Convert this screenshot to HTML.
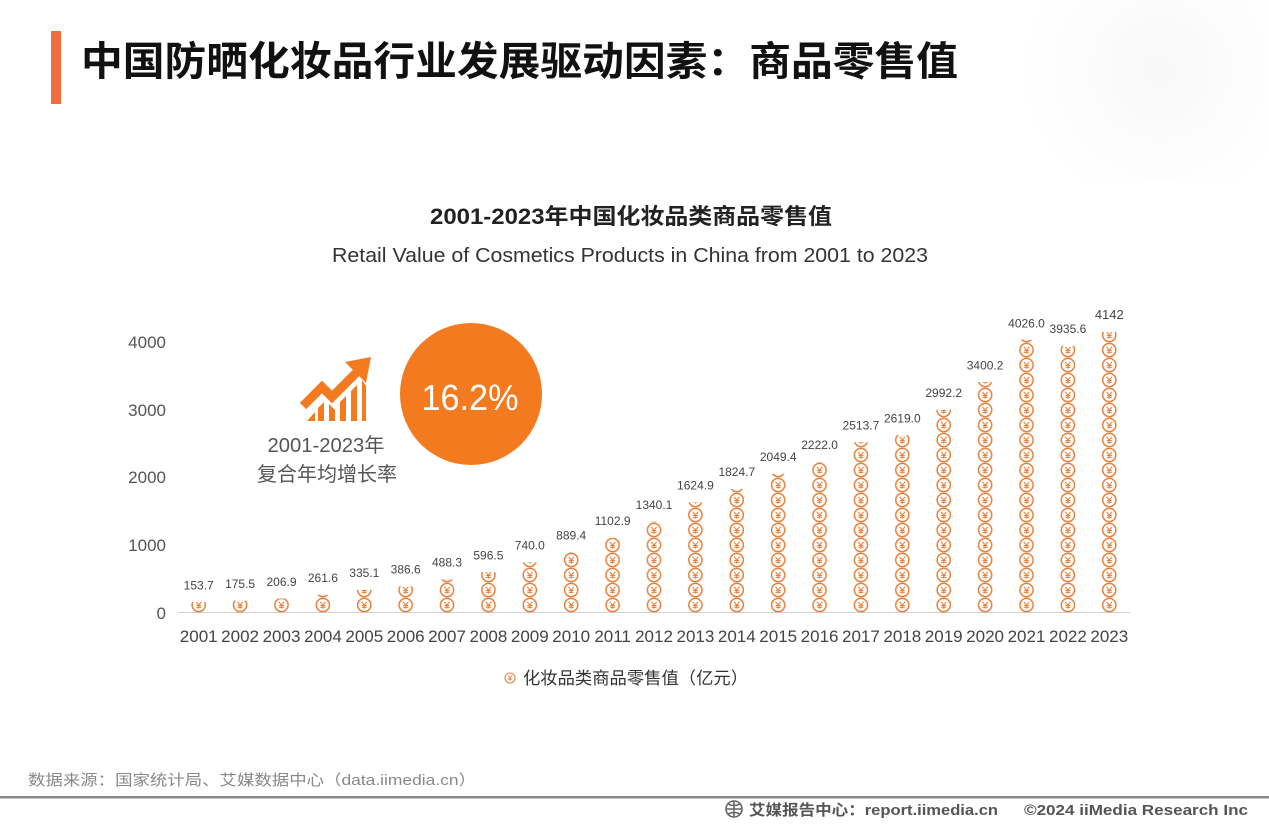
<!DOCTYPE html>
<html><head><meta charset="utf-8">
<style>
html,body{margin:0;padding:0;background:#fff;}
body{width:1269px;height:825px;overflow:hidden;position:relative;}
svg{position:absolute;left:0;top:0;}
</style></head>
<body>
<svg width="1269" height="825" viewBox="0 0 1269 825" xmlns="http://www.w3.org/2000/svg">
<defs>
  <radialGradient id="glow" cx="1160" cy="70" r="140" gradientUnits="userSpaceOnUse">
    <stop offset="0" stop-color="#f8f8f8"/>
    <stop offset="1" stop-color="#ffffff"/>
  </radialGradient>
  <pattern id="coins" patternUnits="userSpaceOnUse" x="178" y="12.5" width="41.39" height="15">
    <circle cx="20.7" cy="7.5" r="6.6" fill="#fff" stroke="#E9803A" stroke-width="1.5"/>
    <path d="M18 4.3 L20.7 7.6 L23.4 4.3 M20.7 7.6 L20.7 11.2 M18.2 8 L23.2 8 M18.2 9.8 L23.2 9.8" fill="none" stroke="#E9803A" stroke-width="1.1"/>
  </pattern>
</defs>
<rect x="1000" y="0" width="269" height="180" fill="url(#glow)"/>

<!-- header -->
<rect x="51" y="31" width="10" height="73" fill="#F26B3A"/>
<text x="81" y="75" font-family="'Liberation Sans','Noto Sans CJK SC',sans-serif" font-size="40" font-weight="bold" fill="#111" textLength="877" lengthAdjust="spacingAndGlyphs">中国防晒化妆品行业发展驱动因素：商品零售值</text>

<!-- chart titles -->
<text x="631" y="224" text-anchor="middle" font-family="'Liberation Sans','Noto Sans CJK SC',sans-serif" font-size="22" font-weight="bold" fill="#222" textLength="402" lengthAdjust="spacingAndGlyphs">2001-2023年中国化妆品类商品零售值</text>
<text x="630" y="262" text-anchor="middle" font-family="'Liberation Sans',sans-serif" font-size="20" fill="#333" textLength="596" lengthAdjust="spacingAndGlyphs">Retail Value of Cosmetics Products in China from 2001 to 2023</text>

<!-- y axis labels -->
<g font-family="'Liberation Sans',sans-serif" font-size="17" fill="#555" text-anchor="end">
  <text x="166" y="348">4000</text>
  <text x="166" y="416">3000</text>
  <text x="166" y="483">2000</text>
  <text x="166" y="551">1000</text>
  <text x="166" y="619">0</text>
</g>

<!-- axis line -->
<line x1="178" y1="612.5" x2="1130" y2="612.5" stroke="#d0d0d0" stroke-width="1"/>

<!-- coin columns -->
<g fill="url(#coins)">
  <rect x="178" y="602.1" width="41.39" height="10.4"/>
  <rect x="219.39" y="600.6" width="41.39" height="11.9"/>
  <rect x="260.78" y="598.5" width="41.39" height="14"/>
  <rect x="302.17" y="594.8" width="41.39" height="17.7"/>
  <rect x="343.56" y="589.8" width="41.39" height="22.7"/>
  <rect x="384.95" y="586.3" width="41.39" height="26.2"/>
  <rect x="426.34" y="579.4" width="41.39" height="33.1"/>
  <rect x="467.73" y="572.1" width="41.39" height="40.4"/>
  <rect x="509.12" y="562.4" width="41.39" height="50.1"/>
  <rect x="550.51" y="552.2" width="41.39" height="60.3"/>
  <rect x="591.9" y="537.8" width="41.39" height="74.7"/>
  <rect x="633.29" y="521.7" width="41.39" height="90.8"/>
  <rect x="674.68" y="502.4" width="41.39" height="110.1"/>
  <rect x="716.07" y="488.9" width="41.39" height="123.6"/>
  <rect x="757.46" y="473.7" width="41.39" height="138.8"/>
  <rect x="798.85" y="462.0" width="41.39" height="150.5"/>
  <rect x="840.24" y="442.2" width="41.39" height="170.3"/>
  <rect x="881.63" y="435.1" width="41.39" height="177.4"/>
  <rect x="923.02" y="409.8" width="41.39" height="202.7"/>
  <rect x="964.41" y="382.1" width="41.39" height="230.4"/>
  <rect x="1005.8" y="339.7" width="41.39" height="272.8"/>
  <rect x="1047.19" y="345.9" width="41.39" height="266.6"/>
  <rect x="1088.58" y="331.9" width="41.39" height="280.6"/>
</g>

<!-- value labels -->
<g font-family="'Liberation Sans',sans-serif" font-size="12" fill="#444" text-anchor="middle">
  <text x="198.7" y="589.5">153.7</text>
  <text x="240.1" y="588">175.5</text>
  <text x="281.5" y="586">206.9</text>
  <text x="322.9" y="582">261.6</text>
  <text x="364.3" y="577">335.1</text>
  <text x="405.7" y="573.5">386.6</text>
  <text x="447.0" y="566.5">488.3</text>
  <text x="488.4" y="559.5">596.5</text>
  <text x="529.8" y="549.5">740.0</text>
  <text x="571.2" y="539.5">889.4</text>
  <text x="612.6" y="525">1102.9</text>
  <text x="654.0" y="509">1340.1</text>
  <text x="695.4" y="489.5">1624.9</text>
  <text x="736.8" y="476">1824.7</text>
  <text x="778.2" y="461">2049.4</text>
  <text x="819.6" y="449">2222.0</text>
  <text x="860.9" y="429.5">2513.7</text>
  <text x="902.3" y="422.5">2619.0</text>
  <text x="943.7" y="397">2992.2</text>
  <text x="985.1" y="369.5">3400.2</text>
  <text x="1026.5" y="327.5">4026.0</text>
  <text x="1067.9" y="333">3935.6</text>
  <text x="1109.3" y="319" font-size="13">4142</text>
</g>

<!-- year labels -->
<g font-family="'Liberation Sans',sans-serif" font-size="17" fill="#444" text-anchor="middle">
  <text x="198.7" y="642">2001</text>
  <text x="240.1" y="642">2002</text>
  <text x="281.5" y="642">2003</text>
  <text x="322.9" y="642">2004</text>
  <text x="364.3" y="642">2005</text>
  <text x="405.7" y="642">2006</text>
  <text x="447.0" y="642">2007</text>
  <text x="488.4" y="642">2008</text>
  <text x="529.8" y="642">2009</text>
  <text x="571.2" y="642">2010</text>
  <text x="612.6" y="642">2011</text>
  <text x="654.0" y="642">2012</text>
  <text x="695.4" y="642">2013</text>
  <text x="736.8" y="642">2014</text>
  <text x="778.2" y="642">2015</text>
  <text x="819.6" y="642">2016</text>
  <text x="860.9" y="642">2017</text>
  <text x="902.3" y="642">2018</text>
  <text x="943.7" y="642">2019</text>
  <text x="985.1" y="642">2020</text>
  <text x="1026.5" y="642">2021</text>
  <text x="1067.9" y="642">2022</text>
  <text x="1109.3" y="642">2023</text>
</g>

<!-- growth icon -->
<polyline points="303,406 322,387 332,397 357,372" fill="none" stroke="#F47A20" stroke-width="9" stroke-linejoin="miter" stroke-linecap="butt"/>
<polygon points="371,357 345,362 366,383" fill="#F47A20"/>
<g fill="#F47A20">
  <polygon points="307,421 315,412 315,421"/>
  <polygon points="318,421 318,408 324,402 324,421"/>
  <polygon points="329,421 329,404 335,410 335,421"/>
  <polygon points="340,421 340,402 346,396 346,421"/>
  <polygon points="351,421 351,391 357,385 357,421"/>
  <polygon points="362,421 362,380 366,386 366,421"/>
</g>
<g font-family="'Liberation Sans','Noto Sans CJK SC',sans-serif" font-size="20" fill="#555" text-anchor="middle">
  <text x="326" y="452" textLength="117" lengthAdjust="spacingAndGlyphs">2001-2023年</text>
  <text x="327" y="481" textLength="140" lengthAdjust="spacingAndGlyphs">复合年均增长率</text>
</g>

<!-- CAGR circle -->
<circle cx="471" cy="394" r="71" fill="#F47A20"/>
<text x="470" y="410" text-anchor="middle" font-family="'Liberation Sans',sans-serif" font-size="36" fill="#fff" textLength="97" lengthAdjust="spacingAndGlyphs">16.2%</text>

<!-- legend -->
<circle cx="510" cy="678" r="5" fill="#fff" stroke="#E9803A" stroke-width="1.1"/>
<path d="M508.2 675.6 L510 677.8 L511.8 675.6 M510 677.8 L510 680.6 M508.3 678.2 L511.7 678.2 M508.3 679.5 L511.7 679.5" fill="none" stroke="#E9803A" stroke-width="0.8"/>
<text x="523" y="684" font-family="'Liberation Sans','Noto Sans CJK SC',sans-serif" font-size="17" fill="#333" textLength="225" lengthAdjust="spacingAndGlyphs">化妆品类商品零售值（亿元）</text>

<!-- footer -->
<text x="28" y="785" font-family="'Liberation Sans','Noto Sans CJK SC',sans-serif" font-size="15" fill="#888" textLength="448" lengthAdjust="spacingAndGlyphs">数据来源：国家统计局、艾媒数据中心（data.iimedia.cn）</text>
<rect x="0" y="796" width="1269" height="2.5" fill="#8a8a8a"/>
<g fill="none" stroke="#666" stroke-width="1.6">
  <circle cx="734" cy="809" r="8"/>
  <path d="M726 809 L742 809 M734 801 L734 817 M728 804 Q734 807 740 804 M728 814 Q734 811 740 814"/>
</g>
<text x="749" y="815" font-family="'Liberation Sans','Noto Sans CJK SC',sans-serif" font-size="15" font-weight="bold" fill="#555" textLength="249" lengthAdjust="spacingAndGlyphs">艾媒报告中心：report.iimedia.cn</text>
<text x="1024" y="815" font-family="'Liberation Sans',sans-serif" font-size="15" font-weight="bold" fill="#555" textLength="224" lengthAdjust="spacingAndGlyphs">©2024  iiMedia Research  Inc</text>
</svg>
</body></html>
